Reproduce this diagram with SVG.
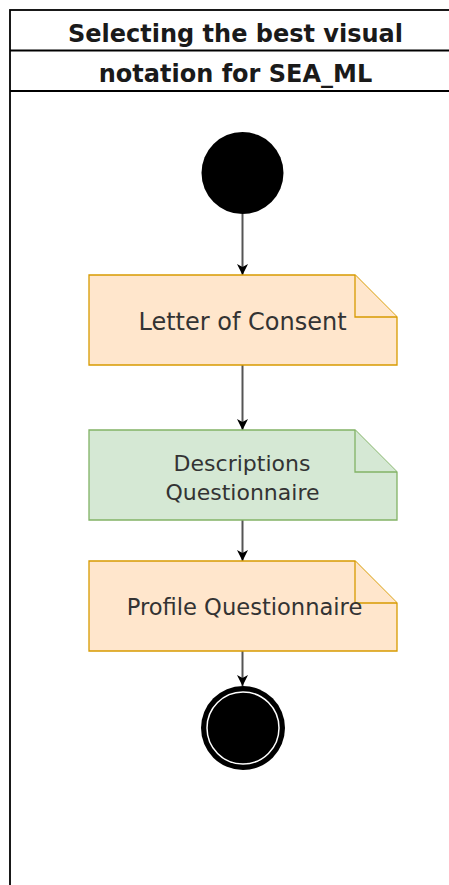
<svg xmlns="http://www.w3.org/2000/svg" width="449" height="885" viewBox="0 0 449 885">
  <style>
    .frame { fill: #ffffff; stroke: #000000; stroke-width: 1.8; }
    .title { font-family: "DejaVu Sans", Verdana, sans-serif; font-weight: bold; font-size: 24px; fill: #1a1a1a; text-anchor: middle; }
    .label { font-family: "DejaVu Sans", Verdana, sans-serif; font-size: 22px; fill: #333333; text-anchor: middle; }
    .note-orange { fill: #ffe6cc; stroke: #d79b00; stroke-width: 1.3; }
    .note-green { fill: #d5e8d4; stroke: #82b366; stroke-width: 1.3; }
    .edge { fill: none; stroke: #555555; stroke-width: 2; }
  </style>
  <defs>
    <marker id="arrow" markerWidth="14" markerHeight="14" refX="12" refY="7" orient="auto" markerUnits="userSpaceOnUse">
      <path d="M1,1.5 L12,7 L1,12.5 L4,7 Z" fill="#000000"/>
    </marker>
  </defs>

  <rect width="449" height="885" fill="#ffffff"/>

  <!-- swimlane frame with two-row header -->
  <g id="pool">
    <rect class="frame" x="10" y="10" width="451" height="900"/>
    <line x1="10" y1="50.5" x2="461" y2="50.5" stroke="#000" stroke-width="1.8"/>
    <line x1="10" y1="91" x2="461" y2="91" stroke="#000" stroke-width="1.8"/>
    <text class="title" x="235.5" y="41.5">Selecting the best visual</text>
    <text class="title" x="235.5" y="81.5">notation for SEA_ML</text>
  </g>

  <!-- connectors -->
  <g id="edges">
    <line class="edge" x1="242.5" y1="214" x2="242.5" y2="275" marker-end="url(#arrow)"/>
    <line class="edge" x1="242.5" y1="365" x2="242.5" y2="430" marker-end="url(#arrow)"/>
    <line class="edge" x1="242.5" y1="520" x2="242.5" y2="561" marker-end="url(#arrow)"/>
    <line class="edge" x1="242.5" y1="651" x2="242.5" y2="686" marker-end="url(#arrow)"/>
  </g>

  <g id="start">
    <circle cx="242.5" cy="173" r="41" fill="#000000"/>
  </g>

  <g id="letter-of-consent">
    <path class="note-orange" d="M89,275 H355 L397,317 V365 H89 Z"/>
    <path class="note-orange" d="M355,275 V317 H397"/>
    <text class="label" x="242.5" y="329.5" style="font-size:24px">Letter of Consent</text>
  </g>

  <g id="descriptions-questionnaire">
    <path class="note-green" d="M89,430 H355 L397,472 V520 H89 Z"/>
    <path class="note-green" d="M355,430 V472 H397"/>
    <text class="label" x="242" y="471">Descriptions</text>
    <text class="label" x="242.5" y="500">Questionnaire</text>
  </g>

  <g id="profile-questionnaire">
    <path class="note-orange" d="M89,561 H355 L397,603 V651 H89 Z"/>
    <path class="note-orange" d="M355,561 V603 H397"/>
    <text class="label" x="244.5" y="615" style="font-size:22.6px">Profile Questionnaire</text>
  </g>

  <g id="end">
    <circle cx="243" cy="728" r="42" fill="#000000"/>
    <circle cx="243" cy="728" r="36" fill="none" stroke="#ffffff" stroke-width="1.5"/>
  </g>
</svg>
